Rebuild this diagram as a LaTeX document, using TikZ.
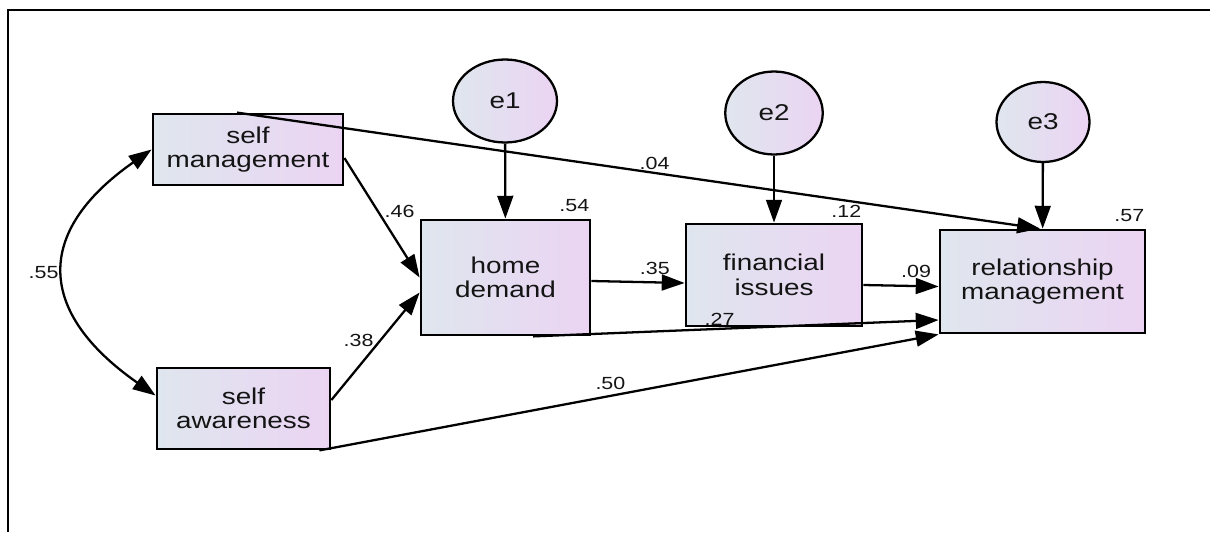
\documentclass[tikz,border=0pt]{standalone}
\usepackage{fontspec}
\setmainfont{Liberation Sans}
\newfontfamily\amosfont{Liberation Sans}[FakeStretch=1.22]
\usetikzlibrary{arrows.meta,shapes.geometric}
\definecolor{amosleft}{RGB}{223,230,238}
\definecolor{amosright}{RGB}{235,212,243}
\definecolor{amostext}{RGB}{20,20,20}

\begin{document}
\begin{tikzpicture}[
    x=0.02cm, y=0.02cm,
    obs/.style={rectangle, draw, line width=1.6pt, left color=amosleft, right color=amosright,
        align=center, text=amostext, inner sep=0pt, font=\amosfont\fontsize{13}{14}\selectfont},
    err/.style={ellipse, draw, line width=1.3pt, left color=amosleft, right color=amosright,
        minimum width=1.95cm, minimum height=1.66cm, text=amostext, font=\amosfont\fontsize{13}{14}\selectfont},
    coef/.style={text=amostext, inner sep=3pt, font=\amosfont\fontsize{10}{11}\selectfont},
    path/.style={-{Triangle[length=13pt, width=9pt]}, line width=1.3pt},
    cov/.style={{Triangle[length=13pt, width=9pt]}-{Triangle[length=13pt, width=9pt]}, line width=1.3pt}
]
    \useasboundingbox (0,0) rectangle (1210,532);
    \draw[line width=1.6pt] (8,0) -- (8,522) -- (1210,522);

    % Observed variables
    \node[obs, minimum width=3.8cm, minimum height=1.42cm] (sm) at (248,382.5) {self\\management};
    \node[obs, minimum width=3.46cm, minimum height=1.62cm] (sa) at (243.5,123.5) {self\\awareness};
    \node[obs, minimum width=3.38cm, minimum height=2.3cm] (hd) at (505.5,254.5) {home\\demand};
    \node[obs, minimum width=3.52cm, minimum height=2.04cm] (fi) at (774,257) {financial\\issues};
    \node[obs, minimum width=4.1cm, minimum height=2.06cm] (rm) at (1042.5,250.5) {relationship\\management};

    % Error terms
    \node[err, minimum width=2.08cm] (e1) at (505,431) {e1};
    \node[err] (e2) at (774,419) {e2};
    \node[err, minimum width=1.86cm, minimum height=1.6cm] (e3) at (1043,410) {e3};

    % Squared multiple correlations
    \node[coef, inner sep=1pt, anchor=south east] (r1) at ([yshift=0.1cm]hd.north east) {.54};
    \node[coef, inner sep=1pt, anchor=south east] (r2) at ([yshift=0.05cm]fi.north east) {.12};
    \node[coef, inner sep=1pt, anchor=south east] (r3) at ([yshift=0.1cm]rm.north east) {.57};

    % Error paths
    \draw[path] (e1) -- (hd);
    \draw[path] (e2) -- (fi);
    \draw[path] (e3) -- (rm);

    % Covariance
    \draw[cov] (sm.west) to[out=215, in=145, looseness=1.5] node[coef, left] {.55} ([yshift=0.26cm]sa.west);

    % Regression paths
    \draw[path] ([yshift=-0.17cm]sm.east) -- node[coef, pos=0.45, right] {.46} (hd.west);
    \draw[path] ([yshift=0.17cm]sa.east) -- node[coef, pos=0.55, left] {.38} ([yshift=-0.3cm]hd.west);
    \draw[path] ([xshift=-0.22cm]sm.north) -- node[coef, pos=0.52, above, inner sep=1pt] {.04} ([xshift=-0.05cm]rm.north);
    \draw[path] ([xshift=-0.24cm]sa.south east) -- node[coef, pos=0.47, above] {.50} (rm.south west);
    \draw[path] ([yshift=-0.07cm]hd.east) -- node[coef, pos=0.68, above, inner sep=4pt] {.35} ([yshift=-0.16cm]fi.west);
    \draw[path] ([yshift=-0.2cm]fi.east) -- node[coef, pos=0.7, above, inner sep=4pt] {.09} ([yshift=-0.1cm]rm.west);
    \draw[path] ([xshift=0.55cm]hd.south) -- node[coef, pos=0.46, above, inner sep=1pt] {.27} ([yshift=-0.77cm]rm.west);
\end{tikzpicture}
\end{document}
